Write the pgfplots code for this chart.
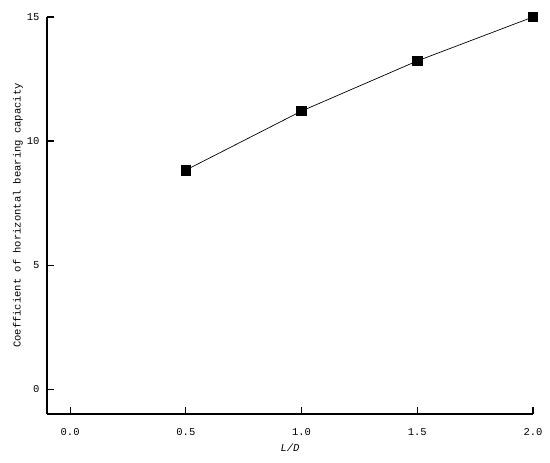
\documentclass[border=0pt]{standalone}
\usepackage{pgfplots}
\pgfplotsset{compat=1.18}
\usepackage{fontspec}
\setmainfont{Liberation Mono}
\begin{document}
\begin{tikzpicture}
\path[use as bounding box] (-47pt,-49pt) rectangle (503pt,414pt);
\begin{axis}[
  at={(0pt,0pt)}, anchor=south west,
  scale only axis, width=486pt, height=397pt,
  xmin=-0.1, xmax=2.0, ymin=-1, ymax=15,
  axis lines*=left,
  axis line style={line width=1.2pt, -},
  xtick={0,0.5,1,1.5,2}, ytick={0,5,10,15},
  xticklabels={0.0,0.5,1.0,1.5,2.0},
  tick align=inside, major tick length=7pt,
  tick style={line width=1.2pt, black},
  /pgf/number format/assume math mode=true,
  tick label style={font=\fontsize{10.5}{12}\selectfont},
  xticklabel style={anchor=center, yshift=-18pt},
  yticklabel style={xshift=-4pt},
  xlabel={\textit{L/D}},
  ylabel={Coefficient of horizontal bearing capacity},
  label style={font=\fontsize{10.5}{12}\selectfont},
  xlabel style={at={(axis description cs:0.5,-0.0856)}, anchor=center},
  ylabel style={at={(axis description cs:-0.0597,0.5)}, anchor=center},
  clip=false,
]
\addplot[black, line width=0.7pt, mark=square*, mark size=4.8pt, mark options={solid, fill=black}]
  coordinates {(0.5,8.83) (1.0,11.21) (1.5,13.23) (2.0,15.0)};
\end{axis}
\end{tikzpicture}
\end{document}
